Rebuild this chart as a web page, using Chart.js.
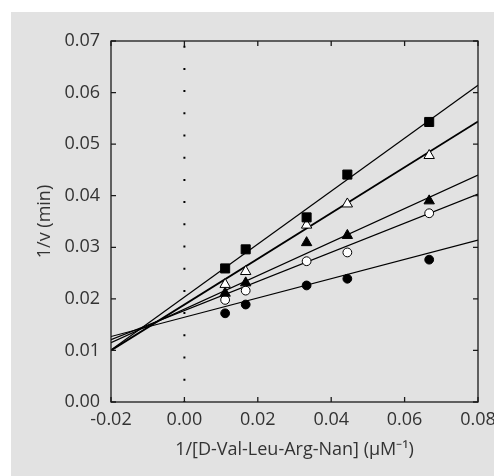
<!DOCTYPE html>
<html>
<head>
<meta charset="utf-8">
<script src="https://cdn.jsdelivr.net/npm/chart.js@4"></script>
<style>
html, body { margin: 0; padding: 0; background: #fff; }
#box { position: absolute; left: 11px; top: 12px; width: 483px; height: 464px; background: #e2e2e2; }
</style>
</head>
<body>
<div id="box"><canvas id="chart" width="483" height="464"></canvas></div>
<script>
// 1/[S] for the five substrate concentrations
const invSubstrate = [0.0111, 0.0167, 0.0333, 0.0444, 0.0667];

// measured 1/v, one array per inhibitor level
const filledCircle = [0.0172, 0.0189, 0.0226, 0.0239, 0.0276];
const openCircle   = [0.0198, 0.0216, 0.0273, 0.0290, 0.0366];
const filledTri    = [0.0211, 0.0231, 0.0309, 0.0323, 0.0390];
const openTri      = [0.0228, 0.0253, 0.0343, 0.0384, 0.0478];
const filledSquare = [0.0259, 0.0296, 0.0358, 0.0441, 0.0543];

// fitted lines, value at x = -0.02 and x = 0.08
const lineX = [-0.02, 0.08];
const fitFilledCircle = [0.0127, 0.0314];
const fitOpenCircle   = [0.0121, 0.0403];
const fitFilledTri    = [0.0115, 0.0440];
const fitOpenTri      = [0.0100, 0.0544];
const fitFilledSquare = [0.0101, 0.0614];

const xTicks = [-0.02, 0.00, 0.02, 0.04, 0.06, 0.08];
const xTickLabels = ['-0.02', '0.00', '0.02', '0.04', '0.06', '0.08'];
const yTicks = [0, 0.01, 0.02, 0.03, 0.04, 0.05, 0.06, 0.07];
const yTickLabels = ['0.00', '0.01', '0.02', '0.03', '0.04', '0.05', '0.06', '0.07'];

const pts = ys => invSubstrate.map((x, i) => ({ x: x, y: ys[i] }));
const fit = ys => lineX.map((x, i) => ({ x: x, y: ys[i] }));

function markers(ys, style, fill, radius) {
    return {
        type: 'scatter', data: pts(ys), pointStyle: style, pointRadius: radius,
        backgroundColor: fill, borderColor: '#000', borderWidth: 1, showLine: false
    };
}
function fitLine(ys, width) {
    return {
        type: 'line', data: fit(ys), borderColor: '#000', borderWidth: width,
        pointRadius: 0, fill: false, tension: 0
    };
}

const frameTicks = {
    id: 'frameTicks',
    afterDatasetsDraw(chart) {
        const { ctx, chartArea: a, scales: { x, y } } = chart;
        ctx.save();
        ctx.strokeStyle = '#1a1a1a';
        ctx.lineWidth = 1.3;
        ctx.strokeRect(a.left, a.top, a.right - a.left, a.bottom - a.top);
        ctx.beginPath();
        x.ticks.forEach(t => {
            const px = x.getPixelForValue(t.value);
            ctx.moveTo(px, a.bottom); ctx.lineTo(px, a.bottom - 5);
            ctx.moveTo(px, a.top); ctx.lineTo(px, a.top + 5);
        });
        y.ticks.forEach(t => {
            const py = y.getPixelForValue(t.value);
            ctx.moveTo(a.left, py); ctx.lineTo(a.left + 5, py);
            ctx.moveTo(a.right, py); ctx.lineTo(a.right - 5, py);
        });
        ctx.stroke();
        ctx.restore();
    }
};

const font = { family: 'Open Sans', size: 18 };

new Chart(document.getElementById('chart'), {
    data: {
        datasets: [
            markers(filledSquare, 'rect', '#000', 6.4),
            markers(openTri, 'triangle', '#fff', 6),
            markers(filledTri, 'triangle', '#000', 6),
            markers(openCircle, 'circle', '#fff', 4.4),
            markers(filledCircle, 'circle', '#000', 4.4),
            fitLine(fitFilledSquare, 1.2),
            fitLine(fitOpenTri, 1.8),
            fitLine(fitFilledTri, 1.2),
            fitLine(fitOpenCircle, 1.2),
            fitLine(fitFilledCircle, 1.2),
            {
                type: 'line', data: [{ x: 0, y: 0.07 }, { x: 0, y: 0 }],
                borderColor: '#000', borderWidth: 2, borderDash: [2, 20.2],
                borderDashOffset: 17.5, pointRadius: 0
            }
        ]
    },
    options: {
        responsive: false,
        animation: false,
        layout: { padding: { left: 0, right: 16, top: 29, bottom: 0 } },
        plugins: { legend: { display: false }, tooltip: { enabled: false } },
        scales: {
            x: {
                type: 'linear', min: -0.02, max: 0.08,
                afterBuildTicks: s => { s.ticks = xTicks.map(v => ({ value: v })); },
                afterFit: s => { s.height = 74; s.paddingLeft = 0; s.paddingRight = 0; },
                grid: { display: false, drawTicks: false },
                border: { display: false },
                ticks: { padding: 7, color: '#333', font: font, maxRotation: 0,
                         callback: (v, i) => xTickLabels[i] },
                title: { display: true, text: '1/[D-Val-Leu-Arg-Nan] (\u00b5M\u207b\u00b9)',
                         color: '#333', font: font, padding: { top: 0, bottom: 15 } }
            },
            y: {
                type: 'linear', min: 0, max: 0.07,
                afterBuildTicks: s => { s.ticks = yTicks.map(v => ({ value: v })); },
                afterFit: s => { s.width = 100; s.paddingTop = 0; s.paddingBottom = 0; },
                grid: { display: false, drawTicks: false },
                border: { display: false },
                ticks: { padding: 11, color: '#333', font: font,
                         callback: (v, i) => yTickLabels[i] },
                title: { display: true, text: '1/v (min)', color: '#333', font: font,
                         padding: { top: 23, bottom: 0 } }
            }
        }
    },
    plugins: [frameTicks]
});
</script>
</body>
</html>
